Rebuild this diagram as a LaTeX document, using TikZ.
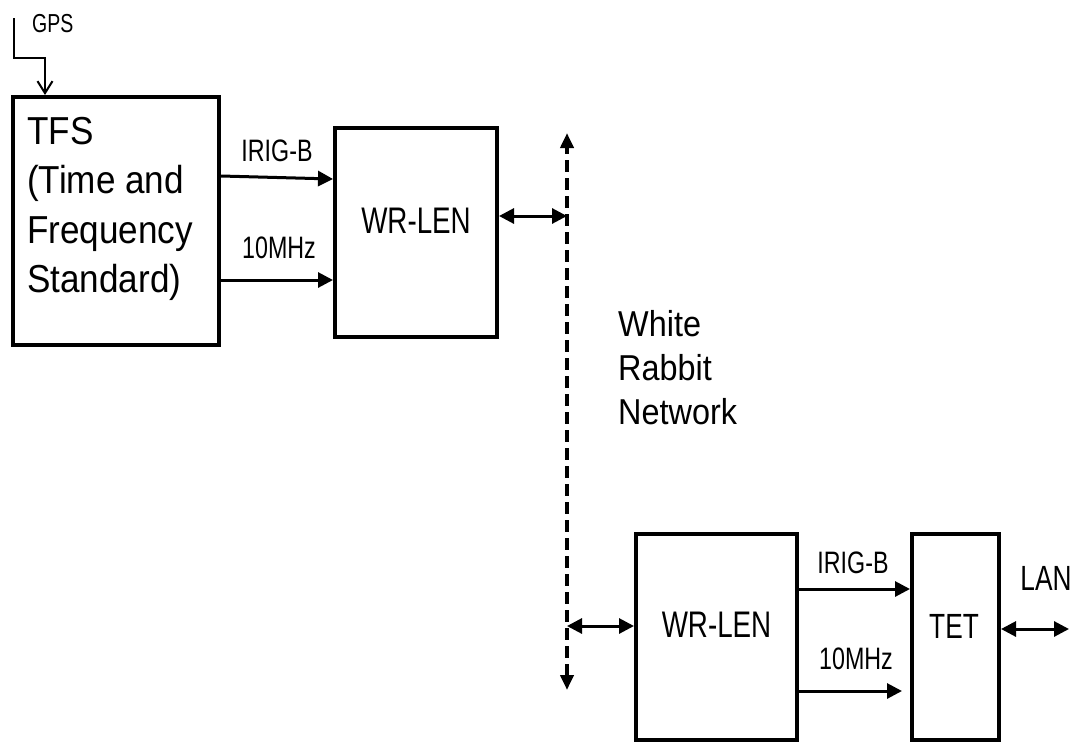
\documentclass[tikz,border=0pt]{standalone}
\usepackage{fontspec}
\setmainfont{Liberation Sans}[FakeStretch=0.75]
\newfontfamily\widefont{Liberation Sans}[FakeStretch=0.9]
\usetikzlibrary{arrows.meta,positioning,calc}
\tikzset{
  unit box/.style={
    draw=black,
    line width=4pt,
    inner sep=0pt,
  },
  unit text/.style={
    font=\fontsize{37}{44}\selectfont,
    inner sep=0pt,
  },
  signal label/.style={
    font=\fontsize{31}{36}\selectfont,
    inner sep=0pt,
  },
  signal arrow/.style={
    -{Triangle[length=15pt,width=15pt]},
    line width=3pt,
  },
  link arrow/.style={
    {Triangle[length=15pt,width=15pt]}-{Triangle[length=15pt,width=15pt]},
    line width=3pt,
  },
  net line/.style={
    {Triangle[length=15pt,width=13pt]}-{Triangle[length=15pt,width=13pt]},
    line width=4.5pt,
    dash pattern=on 12pt off 6pt,
  },
}

\begin{document}
\begin{tikzpicture}[x=1pt,y=-1pt]
  \useasboundingbox (0,0) rectangle (1075,742);

  % boxes
  \node[unit box, minimum width=206pt, minimum height=248pt] (tfs) at (116,221) {};
  \node[unit box, minimum width=162pt, minimum height=209pt] (wr1) at (416,232.5) {};
  \node[unit box, minimum width=161pt, minimum height=206pt] (wr2) at (716.5,637) {};
  \node[unit box, minimum width=87pt, minimum height=206pt] (tet) at (955.5,637) {};

  % box texts
  \node[unit text, anchor=north west, align=left, font=\widefont\fontsize{39}{49.5}\selectfont]
    (tfstext) at (27,117) {TFS\\(Time and\\Frequency\\Standard)};
  \node[unit text] (wr1text) at (416,221) {WR-LEN};
  \node[unit text] (wr2text) at (716.5,625) {WR-LEN};
  \node[unit text, font=\fontsize{35}{40}\selectfont] (tettext) at (954,626) {TET};

  % GPS input
  \node[signal label, anchor=base west, font=\fontsize{26}{30}\selectfont] (gpstext) at (32,32) {GPS};
  \coordinate (gpsin) at (14,18);
  \coordinate (gpsbend) at (45,58);
  \draw[-{Straight Barb[length=12pt,width=15pt]}, line width=2pt]
    (gpsin) |- (gpsbend) -- (gpsbend |- tfs.north);

  % TFS to upper WR-LEN
  \draw[signal arrow] ($(tfs.north east)+(0,81)$) -- ($(wr1.north west)+(0,53)$);
  \draw[signal arrow] ($(tfs.north east)+(0,185)$) -- ($(wr1.north west)+(0,154)$);
  \node[signal label] (irig1) at (277,151) {IRIG-B};
  \node[signal label] (mhz1) at (279,248) {10MHz};

  % White Rabbit network
  \coordinate (nettop) at (567,133);
  \coordinate (netbot) at (567,690);
  \draw[net line] (netbot) -- (nettop);
  \node[unit text, anchor=north west, align=left, font=\widefont\fontsize{36}{44}\selectfont]
    (nettext) at (618,310) {White\\Rabbit\\Network};
  \draw[link arrow] ($(wr1.north east)+(0,90)$) coordinate (wr1port) -- (wr1port -| nettop);
  \draw[link arrow] ($(wr2.north west)+(0,94)$) coordinate (wr2port) -- (wr2port -| nettop);

  % lower WR-LEN to TET
  \draw[signal arrow] ($(wr2.north east)+(0,57)$) -- ($(tet.north west)+(0,57)$);
  \draw[signal arrow] ($(wr2.north east)+(0,159)$) -- ($(tet.north west)+(-8,159)$);
  \node[signal label] (irig2) at (853,563) {IRIG-B};
  \node[signal label] (mhz2) at (856,659) {10MHz};

  % LAN
  \draw[link arrow] ($(tet.north east)+(0,97)$) coordinate (tetport) -- ++(68,0);
  \node[unit text, font=\fontsize{35}{40}\selectfont] (lantext) at (1046,578) {LAN};
\end{tikzpicture}
\end{document}
